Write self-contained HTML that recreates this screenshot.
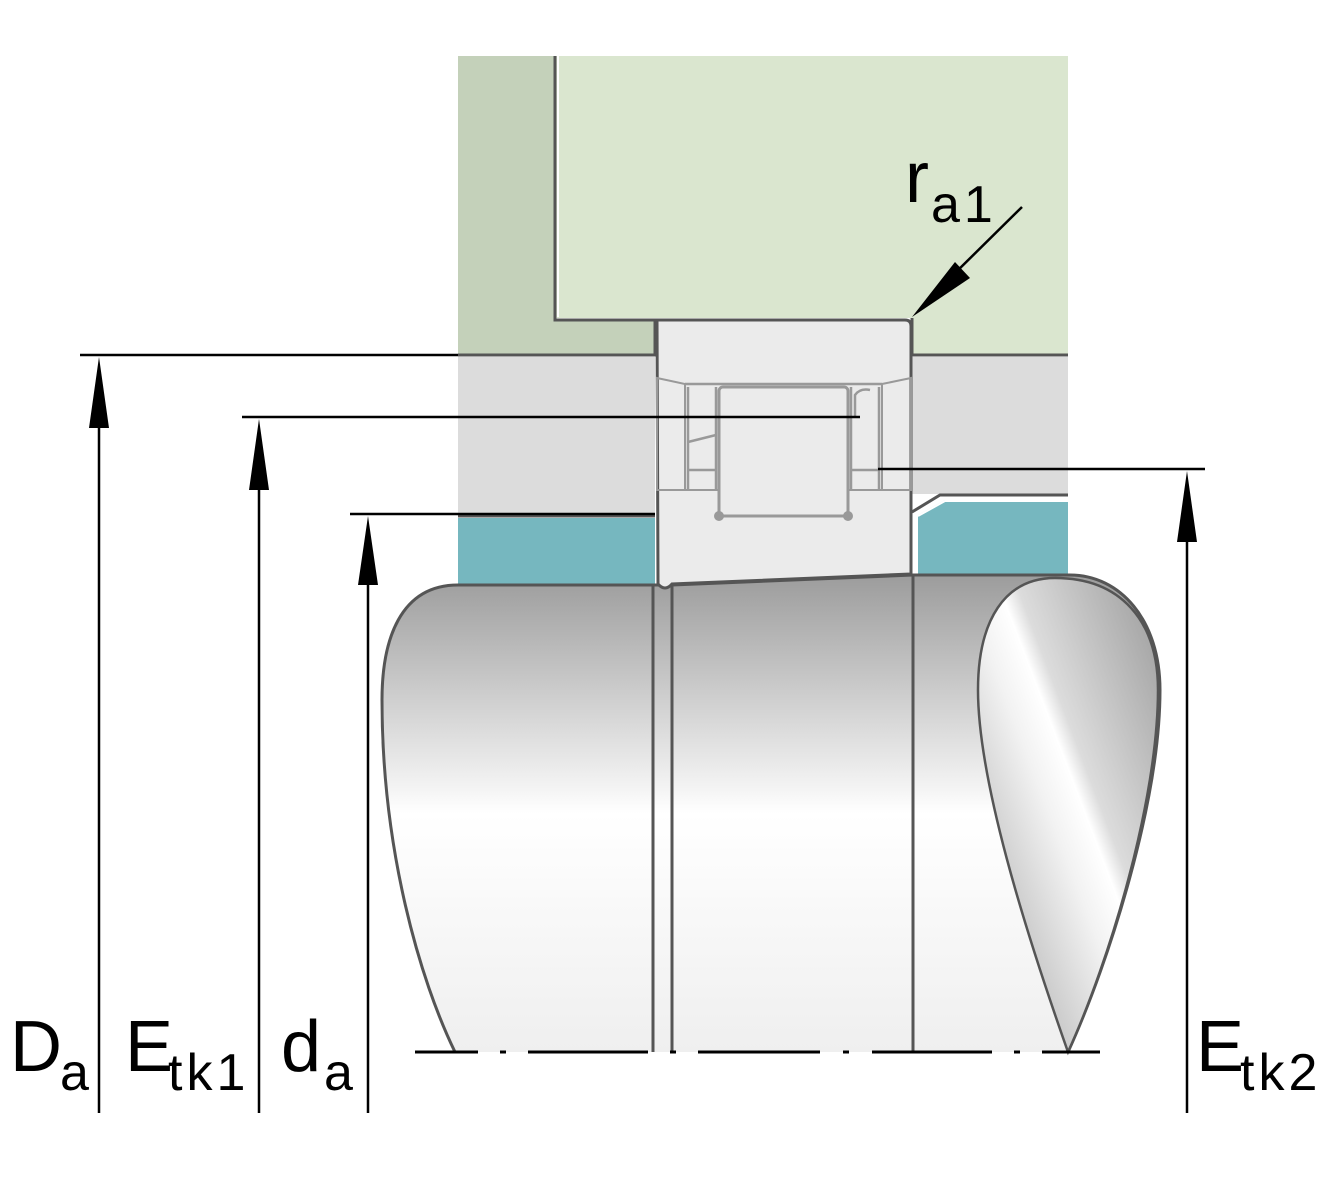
<!DOCTYPE html>
<html><head><meta charset="utf-8"><style>
html,body{margin:0;padding:0;background:#fff;}
svg{display:block;}
text{font-family:"Liberation Sans","DejaVu Sans",sans-serif;fill:#000;}
</style></head><body>
<svg width="1330" height="1200" viewBox="0 0 1330 1200" xmlns="http://www.w3.org/2000/svg">
<defs>
<linearGradient id="shaft" x1="0" y1="0" x2="0" y2="1">
<stop offset="0" stop-color="#9c9c9c"/>
<stop offset="0.45" stop-color="#f4f4f4"/>
<stop offset="0.5" stop-color="#ffffff"/>
<stop offset="1" stop-color="#efefef"/>
</linearGradient>
<linearGradient id="tear" x1="0" y1="1" x2="1" y2="0">
<stop offset="0" stop-color="#9a9a9a"/>
<stop offset="0.45" stop-color="#f2f2f2"/>
<stop offset="0.55" stop-color="#ffffff"/>
<stop offset="0.6" stop-color="#dcdcdc"/>
<stop offset="1" stop-color="#9a9a9a"/>
</linearGradient>
</defs>
<polygon points="555,56 1068,56 1068,355 912,355 912,318 555,318" fill="#dae6cf"/>
<polygon points="458,56 555,56 555,320 655,320 655,355 458,355" fill="#c4d1ba"/>
<polyline points="555,56 555,320 655,320 655,355 458,355" fill="none" stroke="#555" stroke-width="3"/>
<polyline points="558,56 558,317" fill="none" stroke="#fff" stroke-width="2"/>
<polyline points="912,318 912,355 1068,355" fill="none" stroke="#555" stroke-width="3"/>
<rect x="458" y="357" width="197" height="157" fill="#dcdcdc"/>
<rect x="912" y="357" width="156" height="137" fill="#dcdcdc"/>
<rect x="458" y="518" width="197" height="67" fill="#76b7bf"/>
<polygon points="918,515 945,500 1068,500 1068,575 918,575" fill="#76b7bf"/>
<polyline points="458,516 655,516" stroke="#555" stroke-width="3" fill="none"/>
<polyline points="912,512 940,495 1068,495" stroke="#555" stroke-width="3" fill="none"/>
<polyline points="918,516 945,501 1068,501" stroke="#fff" stroke-width="2" fill="none"/>
<!-- shaft -->
<path d="M458,585 C400,585 382,640 382,700 C382,850 420,980 455,1052 L1068,1052 C1110,960 1160,800 1160,690 C1160,620 1120,575 1070,575 L913,575 L672,585 Z" fill="url(#shaft)"/>
<path d="M455,1052 C420,980 382,850 382,700 C382,640 400,585 458,585 L672,585 L913,575 L1070,575 C1120,575 1160,620 1160,690 C1160,800 1110,960 1068,1052" fill="none" stroke="#555" stroke-width="3"/>
<path d="M1068,1052 C1025,930 978,780 978,690 C978,620 1005,578 1055,578 C1120,578 1158,620 1158,690 C1158,800 1110,960 1068,1052 Z" fill="url(#tear)" stroke="#555" stroke-width="2.5"/>
<line x1="653" y1="585" x2="653" y2="1052" stroke="#555" stroke-width="3"/>
<line x1="672" y1="585" x2="672" y2="1052" stroke="#555" stroke-width="3"/>
<line x1="913" y1="575" x2="913" y2="1052" stroke="#555" stroke-width="3"/>
<line x1="458" y1="585" x2="655" y2="585" stroke="#555" stroke-width="3"/>
<!-- bearing -->
<path d="M657,320 L905,320 Q911,320 911,326 L911,574 L672,584 Q665,592 658,584 L657,320 Z" fill="#ebebeb" stroke="#555" stroke-width="3"/>
<path d="M657,378 L685,384 L685,490 L657,490 Z M911,378 L882,384 L882,490 L911,490 Z" fill="none" stroke="#999" stroke-width="2"/>
<path d="M657,490 L911,490" stroke="#999" stroke-width="2"/>
<path d="M685,384 L882,384" stroke="#999" stroke-width="2.5"/>
<rect x="719" y="387" width="129" height="129" rx="4" fill="#ebebeb" stroke="#999" stroke-width="3"/>
<line x1="688" y1="387" x2="688" y2="490" stroke="#999" stroke-width="2.5"/>
<line x1="716" y1="387" x2="716" y2="490" stroke="#999" stroke-width="2.5"/>
<line x1="851" y1="387" x2="851" y2="490" stroke="#999" stroke-width="2.5"/>
<line x1="879" y1="387" x2="879" y2="490" stroke="#999" stroke-width="2.5"/>
<line x1="688" y1="442" x2="716" y2="435" stroke="#999" stroke-width="2.5"/>
<line x1="688" y1="470" x2="716" y2="470" stroke="#999" stroke-width="2.5"/>
<line x1="851" y1="470" x2="879" y2="470" stroke="#999" stroke-width="2.5"/>
<line x1="719" y1="516" x2="848" y2="516" stroke="#999" stroke-width="3"/>
<circle cx="719" cy="516" r="5" fill="#999"/><circle cx="848" cy="516" r="5" fill="#999"/>
<path d="M855,418 L855,395 Q860,388 870,390" fill="none" stroke="#999" stroke-width="2.5"/>
<!-- centerline -->
<g stroke="#000" stroke-width="3">
<line x1="415" y1="1052" x2="478" y2="1052"/>
<line x1="500" y1="1052" x2="506" y2="1052"/>
<line x1="528" y1="1052" x2="648" y2="1052"/>
<line x1="670" y1="1052" x2="676" y2="1052"/>
<line x1="698" y1="1052" x2="820" y2="1052"/>
<line x1="843" y1="1052" x2="849" y2="1052"/>
<line x1="872" y1="1052" x2="992" y2="1052"/>
<line x1="1014" y1="1052" x2="1020" y2="1052"/>
<line x1="1042" y1="1052" x2="1100" y2="1052"/>
</g>
<g stroke="#000" stroke-width="2.5" fill="none">
<line x1="80" y1="355" x2="458" y2="355"/>
<line x1="99" y1="420" x2="99" y2="1113"/>
<line x1="242" y1="417" x2="860" y2="417"/>
<line x1="259" y1="480" x2="259" y2="1113"/>
<line x1="350" y1="514" x2="655" y2="514"/>
<line x1="368" y1="578" x2="368" y2="1113"/>
<line x1="878" y1="469" x2="1205" y2="469"/>
<line x1="1187" y1="535" x2="1187" y2="1113"/>
<line x1="1022" y1="207" x2="950" y2="278"/>
</g>
<g fill="#000">
<polygon points="99,357 89,428 109,428"/>
<polygon points="259,419 249,490 269,490"/>
<polygon points="368,516 358,585 378,585"/>
<polygon points="1187,471 1177,542 1197,542"/>
<polygon points="912,317 955,262 970,278"/>
</g>
<text x="10" y="1071" font-size="72">D</text><text x="60" y="1090" font-size="52">a</text>
<text x="125" y="1071" font-size="72">E</text><text x="168" y="1090" font-size="52" letter-spacing="4">tk1</text>
<text x="281" y="1071" font-size="72">d</text><text x="324" y="1090" font-size="52">a</text>
<text x="1196" y="1071" font-size="72">E</text><text x="1240" y="1090" font-size="52" letter-spacing="4">tk2</text>
<text x="905" y="202" font-size="72">r</text><text x="931" y="222" font-size="52" letter-spacing="4">a1</text>
</svg>
</body></html>
